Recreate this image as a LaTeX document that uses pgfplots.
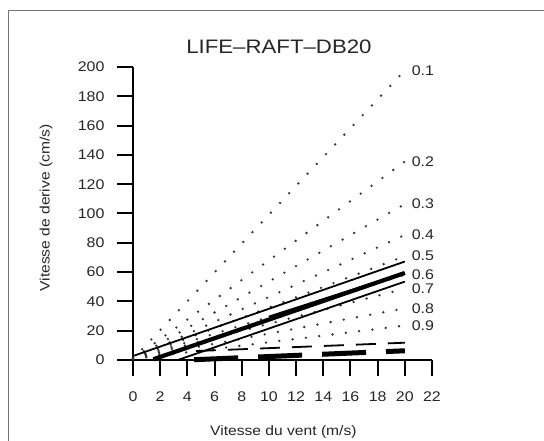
\documentclass[border=0pt]{standalone}
\usepackage{pgfplots}
\pgfplotsset{compat=1.18}
\usepackage{fontspec}
\setmainfont{Liberation Sans}[FakeStretch=1.14]
\begin{document}
\begin{tikzpicture}
\path[use as bounding box] (0pt,0pt) rectangle (544pt,441pt);
\draw[black!55, line width=1pt] (8.3pt,0pt) -- (8.3pt,430.3pt) -- (544pt,430.3pt);
\begin{axis}[
  at={(133pt,81pt)}, anchor=south west, scale only axis,
  width=299pt, height=293pt,
  xmin=0, xmax=22, ymin=0, ymax=200,
  axis x line*=bottom, axis y line*=left,
  axis line style={line width=2.2pt, -},
  xtick={0,2,...,22}, ytick={0,20,...,200},
  tick align=outside, major tick length=16pt,
  tick style={line width=2pt, black},
  /pgf/number format/assume math mode=true,
  ticklabel style={font=\fontsize{14}{14}\selectfont, black!85},
  xticklabel style={yshift=-12pt},
  yticklabel style={xshift=-9pt},
  title={LIFE–RAFT–DB20},
  title style={at={(axis description cs:0.488,1.027)}, anchor=base, font=\fontsize{19.5}{20}\selectfont, black!85},
  xlabel={Vitesse du vent (m/s)},
  xlabel style={at={(axis description cs:0.503,-0.245)}, anchor=center, font=\fontsize{13.7}{14}\selectfont, black!85},
  ylabel={Vitesse de derive (cm/s)},
  ylabel style={at={(axis description cs:-0.291,0.519)}, anchor=center, font=\fontsize{13.7}{14}\selectfont, black!85},
  clip=false,
  dotline/.style={black!80, line width=2.6pt, line cap=round, dash pattern=on 0pt off 13.4pt},
]
% dotted fan lines (0.1 ... 0.9)
\addplot[dotline] coordinates {(0,0.7) (20,197.6)};
\addplot[dotline] coordinates {(0,0.7) (20,135.4)};
\addplot[dotline] coordinates {(0,0.7) (20,106.4)};
\addplot[dotline] coordinates {(0,0.7) (20,85.3)};
\addplot[dotline] coordinates {(0,0.7) (20,70.9)};
\addplot[dotline] coordinates {(0,0.7) (20,58.2)};
\addplot[dotline] coordinates {(0,0.7) (20,48.7)};
\addplot[dotline] coordinates {(0,0.7) (20,35.3)};
\addplot[dotline] coordinates {(0,0.7) (20,23.5)};
% solid lines
\addplot[black, line width=1.8pt] coordinates {(0,2.7) (20,67.2)};
\addplot[black, line width=4.2pt] coordinates {(1.5,0.5) (20,59.4)};
\addplot[black, line width=2.2pt] coordinates {(10,29.5) (20,59.4)};
\addplot[black, line width=1.8pt] coordinates {(3.3,0) (20,53.5)};
% dashed lines
\addplot[black, line width=1.8pt, dash pattern=on 20pt off 12pt] coordinates {(4.63,6.1) (20,11.8)};
\addplot[black, line width=5pt, dash pattern=on 44pt off 20pt] coordinates {(4.5,0.2) (20,6.3)};
% labels
\begin{scope}[every node/.style={anchor=west, inner sep=0pt, font=\fontsize{14}{14}\selectfont, text=black!85}]
\node at (axis cs:20.5,197.6) {0.1};
\node at (axis cs:20.5,135.4) {0.2};
\node at (axis cs:20.5,106.4) {0.3};
\node at (axis cs:20.5,85.3) {0.4};
\node at (axis cs:20.5,70.9) {0.5};
\node at (axis cs:20.5,58.2) {0.6};
\node at (axis cs:20.5,48.7) {0.7};
\node at (axis cs:20.5,35.3) {0.8};
\node at (axis cs:20.5,23.5) {0.9};
\end{scope}
\end{axis}
\end{tikzpicture}
\end{document}
